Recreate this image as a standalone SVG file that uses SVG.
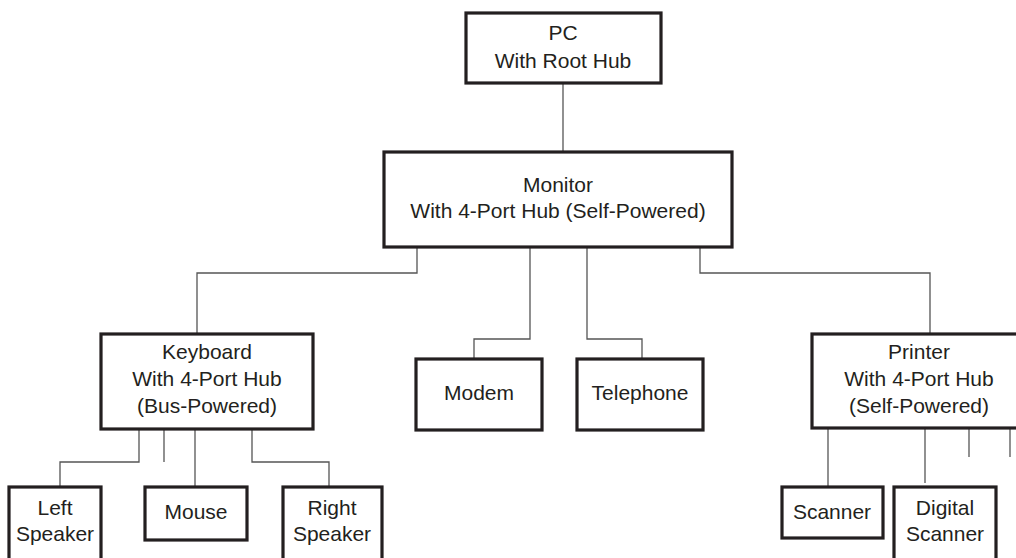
<svg xmlns="http://www.w3.org/2000/svg" width="1016" height="558" viewBox="0 0 1016 558">
<style>
.box{fill:#fff;stroke:#231f20;stroke-width:3.2}
.t{font-family:"Liberation Sans",Arial,sans-serif;font-size:21px;fill:#231f20;text-anchor:middle}
.c{fill:none;stroke:#555;stroke-width:1.3}
</style>
<rect width="1016" height="558" fill="#fff"/>
<g id="connectors">
<path class="c" d="M563,83 V152"/>
<path class="c" d="M417,247 V273 H197 V334"/>
<path class="c" d="M530,247 V339 H474 V359"/>
<path class="c" d="M587,247 V339 H642 V359"/>
<path class="c" d="M700,247 V273 H930 V334"/>
<path class="c" d="M139,429 V462 H60 V487"/>
<path class="c" d="M164,429 V462"/>
<path class="c" d="M195,429 V487"/>
<path class="c" d="M252,429 V462 H329 V487"/>
<path class="c" d="M828,428 V487"/>
<path class="c" d="M925,428 V483"/>
<path class="c" d="M969,428 V457"/>
<path class="c" d="M1010,428 V457"/>
</g>
<g id="pc"><rect class="box" x="466" y="13" width="195" height="70"/><text class="t" x="563" y="40">PC</text><text class="t" x="563" y="68">With Root Hub</text></g>
<g id="monitor"><rect class="box" x="384" y="152" width="348" height="95"/><text class="t" x="558" y="192">Monitor</text><text class="t" x="558" y="218">With 4-Port Hub (Self-Powered)</text></g>
<g id="keyboard"><rect class="box" x="101" y="334" width="212" height="95"/><text class="t" x="207" y="359">Keyboard</text><text class="t" x="207" y="386">With 4-Port Hub</text><text class="t" x="207" y="413">(Bus-Powered)</text></g>
<g id="modem"><rect class="box" x="416" y="359" width="126" height="71"/><text class="t" x="479" y="400">Modem</text></g>
<g id="telephone"><rect class="box" x="577" y="359" width="126" height="71"/><text class="t" x="640" y="400">Telephone</text></g>
<g id="printer"><rect class="box" x="812" y="334" width="214" height="94"/><text class="t" x="919" y="359">Printer</text><text class="t" x="919" y="386">With 4-Port Hub</text><text class="t" x="919" y="413">(Self-Powered)</text></g>
<g id="left-speaker"><rect class="box" x="9" y="487" width="92" height="80"/><text class="t" x="55" y="515">Left</text><text class="t" x="55" y="541">Speaker</text></g>
<g id="mouse"><rect class="box" x="145" y="487" width="102" height="53"/><text class="t" x="196" y="519">Mouse</text></g>
<g id="right-speaker"><rect class="box" x="283" y="487" width="99" height="80"/><text class="t" x="332" y="515">Right</text><text class="t" x="332" y="541">Speaker</text></g>
<g id="scanner"><rect class="box" x="782" y="487" width="101" height="51"/><text class="t" x="832" y="519">Scanner</text></g>
<g id="digital-scanner"><rect class="box" x="894" y="487" width="102" height="80"/><text class="t" x="945" y="515">Digital</text><text class="t" x="945" y="541">Scanner</text></g>
</svg>
